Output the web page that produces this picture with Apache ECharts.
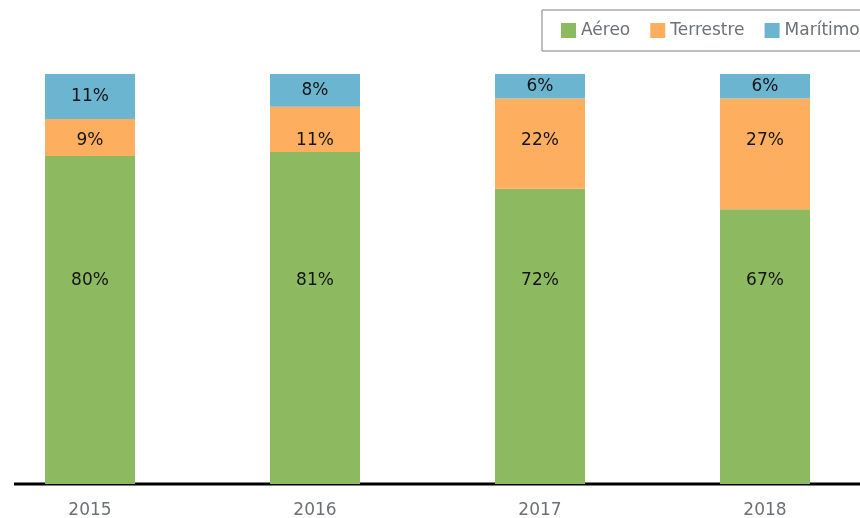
<!DOCTYPE html>
<html>
<head>
<meta charset="utf-8">
<script src="https://cdn.jsdelivr.net/npm/echarts@6/dist/echarts.min.js"></script>
<style>
html, body { margin: 0; padding: 0; background: #fff; }
#main { width: 860px; height: 518px; }
</style>
</head>
<body>
<div id="main"></div>
<script>
var years = ['2015', '2016', '2017', '2018'];
var aereo = [80, 81, 72, 67];
var terrestre = [9, 11, 22, 27];
var maritimo = [11, 8, 6, 6];

var chart = echarts.init(document.getElementById('main'));

var barLabel = {
    show: true,
    position: 'inside',
    color: '#141414',
    fontSize: 17,
    fontFamily: 'DejaVu Sans',
    align: 'center',
    verticalAlign: 'middle',
    formatter: '{c}%'
};

chart.setOption({
    animation: false,
    legend: {
        left: 542,
        top: 10,
        width: 420,
        icon: 'rect',
        itemWidth: 15,
        itemHeight: 15,
        itemGap: 20,
        padding: [12, 10, 12, 19],
        borderColor: '#7f7f7f',
        borderWidth: 1,
        textStyle: { color: '#6b7176', fontSize: 17, fontFamily: 'DejaVu Sans' },
        data: ['Aéreo', 'Terrestre', 'Marítimo']
    },
    grid: { left: -22.5, width: 900, top: 74, bottom: 34, outerBoundsMode: 'none' },
    xAxis: {
        type: 'category',
        data: years,
        axisLine: { show: false },
        axisTick: { show: false },
        axisLabel: { color: '#6b7176', fontSize: 17, fontFamily: 'DejaVu Sans', margin: 18 }
    },
    yAxis: {
        type: 'value',
        min: 0,
        max: 100,
        show: false
    },
    graphic: [{
        type: 'line',
        shape: { x1: 14, y1: 484, x2: 860, y2: 484 },
        style: { stroke: '#000', lineWidth: 3 }
    }],
    series: [{
        name: 'Aéreo',
        type: 'bar',
        stack: 'total',
        barWidth: 90,
        itemStyle: { color: '#8db960' },
        label: barLabel,
        labelLayout: { y: 281, align: 'center', verticalAlign: 'middle' },
        data: aereo
    }, {
        name: 'Terrestre',
        type: 'bar',
        stack: 'total',
        barWidth: 90,
        itemStyle: { color: '#fdaf5f' },
        label: barLabel,
        labelLayout: { y: 141, align: 'center', verticalAlign: 'middle' },
        data: terrestre
    }, {
        name: 'Marítimo',
        type: 'bar',
        stack: 'total',
        barWidth: 90,
        itemStyle: { color: '#6cb5d0' },
        label: barLabel,
        data: maritimo
    }]
});
</script>
</body>
</html>
